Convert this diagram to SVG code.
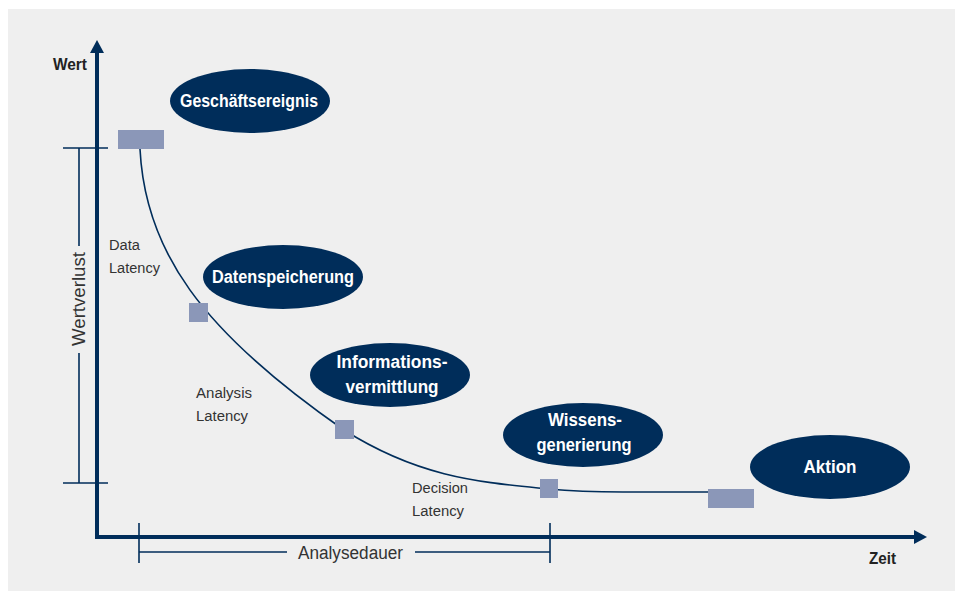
<svg xmlns="http://www.w3.org/2000/svg" width="955" height="591" viewBox="0 0 955 591">
<defs>
<style>
.node ellipse{fill:#002d5a}
.nt{font-family:"Liberation Sans",Arial,sans-serif;font-weight:bold;font-size:18px;fill:#ffffff;text-anchor:middle}
.lbl{font-family:"Liberation Sans",Arial,sans-serif;font-size:15.5px;fill:#333333}
.axlbl{font-family:"Liberation Sans",Arial,sans-serif;font-weight:bold;font-size:16px;fill:#222222}
.mark{fill:#8b97b8}
.thin{stroke:#002d5a;stroke-width:1.6;fill:none}
.axis{stroke:#002d5a;stroke-width:4;fill:none}
</style>
</defs>
<rect x="8" y="9" width="947" height="582" fill="#efefef"/>

<g id="connectors">
  <line class="axis" x1="97" y1="50" x2="97" y2="537"/>
  <polygon points="97,40 90,53 104,53" fill="#002d5a"/>
  <line class="axis" x1="95" y1="537" x2="917" y2="537"/>
  <polygon points="927,537 914,530 914,544" fill="#002d5a"/>
  <line class="thin" x1="63" y1="148" x2="108" y2="148"/>
  <line class="thin" x1="63" y1="483" x2="108" y2="483"/>
  <line class="thin" x1="79" y1="148" x2="79" y2="246"/>
  <line class="thin" x1="79" y1="353" x2="79" y2="483"/>
  <line class="thin" x1="139" y1="523" x2="139" y2="563"/>
  <line class="thin" x1="550" y1="523" x2="550" y2="563"/>
  <line class="thin" x1="139" y1="552" x2="287" y2="552"/>
  <line class="thin" x1="415" y1="552" x2="550" y2="552"/>
  <path class="thin" d="M140,149 C145,250 200,330 344,430 C420,478 480,482 548,489 C580,492 600,492 623,492 L708,492"/>
</g>

<g id="markers">
  <rect class="mark" x="118" y="130" width="46" height="19"/>
  <rect class="mark" x="189" y="303" width="19" height="19"/>
  <rect class="mark" x="335" y="420" width="19" height="19"/>
  <rect class="mark" x="540" y="479" width="18" height="19"/>
  <rect class="mark" x="708" y="489" width="46" height="19"/>
</g>

<g id="node-geschaeftsereignis" class="node">
  <ellipse cx="250" cy="101" rx="80" ry="32"/>
  <text class="nt" x="249" y="107" textLength="138" lengthAdjust="spacingAndGlyphs">Geschäftsereignis</text>
</g>
<g id="node-datenspeicherung" class="node">
  <ellipse cx="283" cy="277" rx="80" ry="32"/>
  <text class="nt" x="283" y="283" textLength="142" lengthAdjust="spacingAndGlyphs">Datenspeicherung</text>
</g>
<g id="node-informationsvermittlung" class="node">
  <ellipse cx="390" cy="375" rx="80" ry="32"/>
  <text class="nt" x="392" y="368" textLength="111" lengthAdjust="spacingAndGlyphs">Informations-</text>
  <text class="nt" x="392" y="393" textLength="93" lengthAdjust="spacingAndGlyphs">vermittlung</text>
</g>
<g id="node-wissensgenerierung" class="node">
  <ellipse cx="583" cy="435" rx="80" ry="32"/>
  <text class="nt" x="585" y="426" textLength="74" lengthAdjust="spacingAndGlyphs">Wissens-</text>
  <text class="nt" x="584" y="451" textLength="95" lengthAdjust="spacingAndGlyphs">generierung</text>
</g>
<g id="node-aktion" class="node">
  <ellipse cx="830" cy="467" rx="80" ry="32"/>
  <text class="nt" x="830" y="473" textLength="53" lengthAdjust="spacingAndGlyphs">Aktion</text>
</g>

<g id="labels">
  <text class="axlbl" x="53" y="70" textLength="34" lengthAdjust="spacingAndGlyphs">Wert</text>
  <text class="axlbl" x="869" y="564" textLength="27" lengthAdjust="spacingAndGlyphs">Zeit</text>
  <text class="lbl" x="109" y="250" textLength="31" lengthAdjust="spacingAndGlyphs">Data</text>
  <text class="lbl" x="109" y="273" textLength="51" lengthAdjust="spacingAndGlyphs">Latency</text>
  <text class="lbl" x="196" y="398" textLength="56" lengthAdjust="spacingAndGlyphs">Analysis</text>
  <text class="lbl" x="196" y="421" textLength="52" lengthAdjust="spacingAndGlyphs">Latency</text>
  <text class="lbl" x="412" y="493" textLength="56" lengthAdjust="spacingAndGlyphs">Decision</text>
  <text class="lbl" x="412" y="516" textLength="52" lengthAdjust="spacingAndGlyphs">Latency</text>
  <text class="lbl" x="298" y="559" style="font-size:18px" textLength="105" lengthAdjust="spacingAndGlyphs">Analysedauer</text>
  <text class="lbl" transform="translate(85,346) rotate(-90)" style="font-size:18px" textLength="94" lengthAdjust="spacingAndGlyphs">Wertverlust</text>
</g>
</svg>
